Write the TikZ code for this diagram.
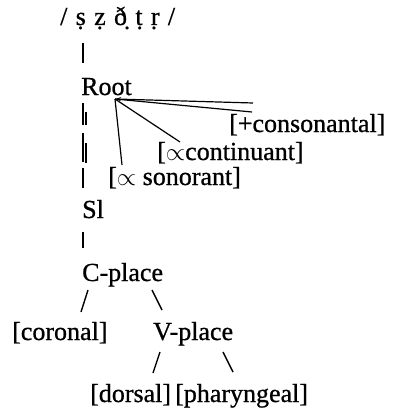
\documentclass[tikz,border=0pt]{standalone}
\usepackage{fontspec}
\setmainfont{Liberation Serif}[FakeBold=0.8]
\usetikzlibrary{arrows.meta}

\begin{document}
\begin{tikzpicture}[
        x=1pt, y=-1pt,
        >={Stealth[length=6pt,width=4pt]},
        lbl/.style={inner sep=0pt,anchor=base west,font=\fontsize{26}{30}\selectfont},
        link/.style={line width=1.4pt},
        fan/.style={line width=1.2pt},
    ]
    \useasboundingbox (0,0) rectangle (394,412);
    % the string and the tree below it
    \node[lbl] (seg) at (60,25) {\spaceskip=.32em / ṣ ẓ ð̣ ṭ ṛ /};
    \node[lbl] (Root) at (81,95) {Root};
    \node[lbl] (cons) at (229,132) {[+consonantal]};
    \node[lbl] (cont) at (157,160) {[$\propto$continuant]};
    \node[lbl] (sono) at (108,185) {[$\propto$ sonorant]};
    \node[lbl] (Sl) at (82,218) {Sl};
    \node[lbl] (Cplace) at (82,281) {C-place};
    \node[lbl] (coronal) at (12,340) {[coronal]};
    \node[lbl] (Vplace) at (153,340) {V-place};
    \node[lbl] (dorsal) at (90,402) {[dorsal]};
    \node[lbl] (phar) at (175,402) {[pharyngeal]};

    \draw[link] ([shift={(23,18)}]seg.base west) -- ([shift={(2,-32)}]Root.base west);
    \draw[link,dash pattern=on 22pt off 8pt on 29pt off 6pt on 20pt]
        ([shift={(2,8)}]Root.base west) -- ([shift={(1,-30)}]Sl.base west);
    \draw[link,dash pattern=on 13pt off 18pt on 21pt]
        ([shift={(5,17)}]Root.base west) -- ([shift={(4,-55)}]Sl.base west);
    \draw[link] ([shift={(1,14)}]Sl.base west) -- ([shift={(1,-33)}]Cplace.base west);
    \draw[link] ([shift={(6,9)}]Cplace.base west) -- ([shift={(69,-28)}]coronal.base west);
    \draw[link] ([shift={(70,9)}]Cplace.base west) -- ([shift={(9,-30)}]Vplace.base west);
    \draw[link] ([shift={(7,12)}]Vplace.base west) -- ([shift={(63,-29)}]dorsal.base west);
    \draw[link] ([shift={(70,12)}]Vplace.base west) -- ([shift={(58,-30)}]phar.base west);

    % features hanging from the root node
    \coordinate (apex) at ([shift={(34,4)}]Root.base west);
    \coordinate (topend) at (253,103);
    \draw[fan,->] (topend) -- (apex);
    \draw[fan] (apex) -- ([shift={(23,-20)}]cons.base west);
    \draw[fan] (apex) -- ([shift={(23,-18)}]cont.base west);
    \draw[fan] (apex) -- ([shift={(14,-20)}]sono.base west);
\end{tikzpicture}
\end{document}
